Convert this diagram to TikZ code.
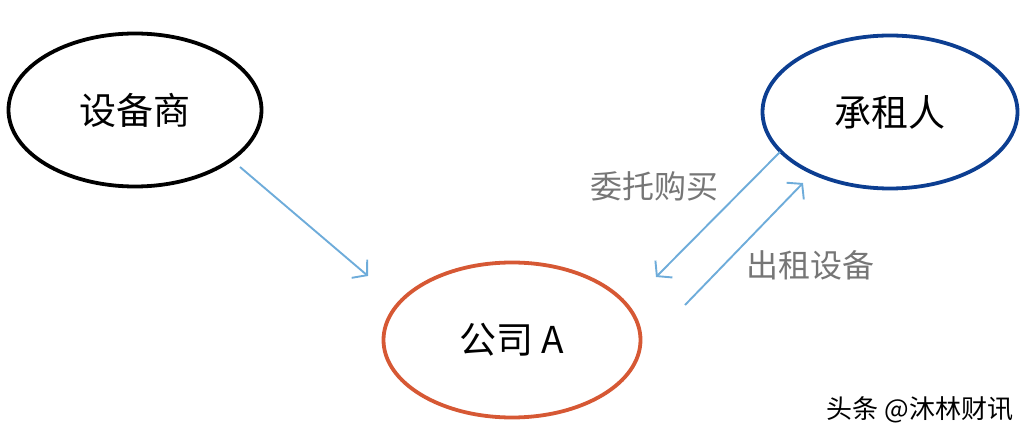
\documentclass[tikz,border=0pt]{standalone}
\usepackage{fontspec}
\setmainfont{Noto Sans CJK SC}
\usepackage{tikz}
\usetikzlibrary{arrows.meta}
\usetikzlibrary{shapes.geometric}
\usetikzlibrary{positioning}

\definecolor{lesseeblue}{RGB}{12,62,145}
\definecolor{firmred}{RGB}{214,88,52}
\definecolor{arrowblue}{RGB}{110,172,218}
\definecolor{labelgray}{RGB}{118,118,118}

\begin{document}
\begin{tikzpicture}[x=1pt,y=-1pt]
        \useasboundingbox (0,0) rectangle (1029,438);
        \tikzstyle{party}=[ellipse,draw,line width=3.8pt,inner sep=0pt,font=\fontsize{37}{42}\selectfont]
        \tikzstyle{flow}=[draw=arrowblue,line width=1.9pt,-{Straight Barb[length=10pt,width=24pt]}]
        \tikzstyle{deal}=[text=labelgray,font=\fontsize{32}{36}\selectfont]
        \node[party,minimum width=253pt,minimum height=153pt] (S) at (135,110) {设备商} ;
        \node[party,draw=lesseeblue,minimum width=255pt,minimum height=153pt] (L) at (890,112) {承租人} ;
        \node[party,draw=firmred,minimum width=257pt,minimum height=155pt] (A) at (512,340) {公司 A} ;
        % free ends of the arrows
        \coordinate (s1) at (240,167) ;
        \coordinate (a1) at (368,276) ;
        \coordinate (l1) at (780,152) ;
        \coordinate (a2) at (656,277) ;
        \coordinate (a3) at (685,305) ;
        \coordinate (l2) at (803,183) ;
        \draw[flow] (s1) -- (a1) ;
        \draw[flow] (l1) -- (a2) ;
        \draw[flow] (a3) -- (l2) ;
        \node[deal] (buy) at (654,186) {委托购买} ;
        \node[deal] (rent) at (810,265) {出租设备} ;
        \node[font=\fontsize{26}{30}\selectfont] (mark) at (920,410) {头条 @沐林财讯} ;
      \end{tikzpicture}
\end{document}
